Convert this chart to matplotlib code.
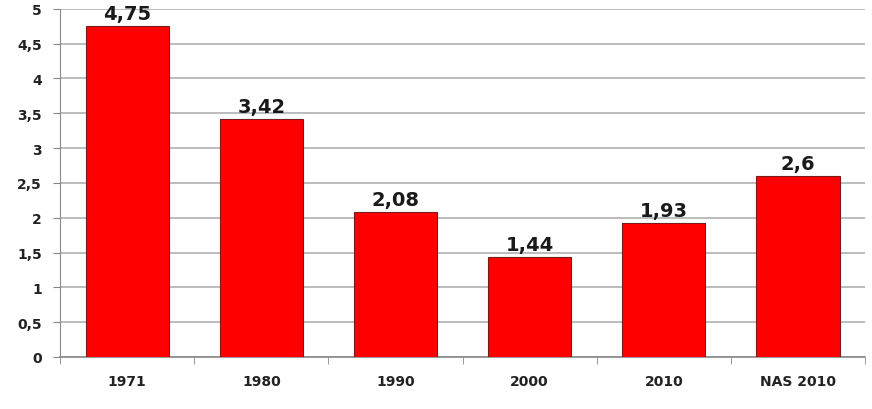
import numpy as np
import matplotlib.pyplot as plt

CATEGORIES = ['1971', '1980', '1990', '2000', '2010', 'NAS 2010']
VALUES = [4.75, 3.42, 2.08, 1.44, 1.93, 2.6]
LABELS = ['4,75', '3,42', '2,08', '1,44', '1,93', '2,6']
YTICKS = [0, 0.5, 1, 1.5, 2, 2.5, 3, 3.5, 4, 4.5, 5]
YTICK_LABELS = ['0', '0,5', '1', '1,5', '2', '2,5', '3', '3,5', '4', '4,5', '5']


def main():
    fig = plt.figure(figsize=(8.72, 4.10), dpi=100)
    ax = fig.add_axes([0.069, 0.127, 0.923, 0.849])

    x = np.arange(len(CATEGORIES))
    ax.bar(x, VALUES, width=0.62, color='#ff0000', edgecolor='#7a1a1a',
           linewidth=0.8, zorder=3)
    for xi, v, lab in zip(x, VALUES, LABELS):
        ax.text(xi, v + 0.04, lab, ha='center', va='bottom',
                fontsize=14, fontweight='bold', color='#1a1a1a')

    ax.set_xlim(-0.5, len(CATEGORIES) - 0.5)
    ax.set_ylim(0, 5)
    ax.set_yticks(YTICKS)
    ax.set_yticklabels(YTICK_LABELS, fontsize=10, fontweight='bold', color='#222222')
    ax.set_xticks(x)
    ax.set_xticklabels(CATEGORIES, fontsize=10, fontweight='bold', color='#222222')
    ax.tick_params(axis='x', length=0, pad=12)
    ax.set_xticks(np.arange(-0.5, len(CATEGORIES)), minor=True)
    ax.tick_params(axis='x', which='minor', length=5, color='#888888')
    ax.tick_params(axis='y', length=5, color='#888888', pad=8)

    ax.yaxis.grid(True, color='#b0b0b0', linewidth=1.2, zorder=0)
    for side in ['top', 'right']:
        ax.spines[side].set_visible(False)
    ax.spines['left'].set_color('#888888')
    ax.spines['bottom'].set_color('#888888')
    ax.spines['bottom'].set_linewidth(1.2)

    fig.savefig('out.png', dpi=100)


if __name__ == '__main__':
    main()
